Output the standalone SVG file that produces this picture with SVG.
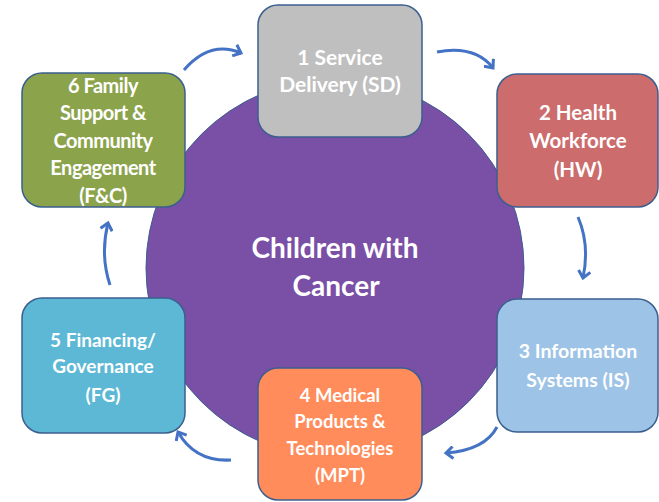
<svg xmlns="http://www.w3.org/2000/svg" width="659" height="502" viewBox="0 0 659 502">
<defs>
<style>
.box{stroke:#3B5F8F;stroke-width:1.5}
.t{font-family:Lato,"Open Sans","Liberation Sans",sans-serif;font-weight:bold;font-size:19px;fill:#FFFFFF;text-anchor:middle}
.c{font-size:28px}
.arr{fill:none;stroke:#4472C4;stroke-width:3;marker-end:url(#ah)}
</style>
<marker id="ah" markerWidth="14" markerHeight="14" refX="10" refY="7" orient="auto" markerUnits="userSpaceOnUse" viewBox="0 0 14 14">
<path d="M3,1 L10,7 L3,13" fill="none" stroke="#4472C4" stroke-width="3"/>
</marker>
</defs>
<rect width="659" height="502" fill="#FFFFFF"/>
<g id="center">
<circle cx="335" cy="268" r="189" fill="#7A4FA6" stroke="#3B5F8F" stroke-width="1"/>
<text class="t c" x="335" y="258">Children with</text>
<text class="t c" x="336" y="296">Cancer</text>
</g>
<g id="connectors">
<path class="arr" d="M184,70 Q210,40 241,53"/>
<path class="arr" d="M437,52 Q475,45 493,68"/>
<path class="arr" d="M578,217 Q590,245 583,278"/>
<path class="arr" d="M497,427 Q485,450 446,453"/>
<path class="arr" d="M231,460 Q195,462 178,432"/>
<path class="arr" d="M110,285 Q100,255 108,223"/>
</g>
<g id="node1">
<rect class="box" x="258" y="5" width="164" height="132" rx="20" fill="#BFBFBF"/>
<text class="t" x="340" y="65" style="font-size:21px">1 Service</text>
<text class="t" x="340" y="92" style="font-size:21px">Delivery (SD)</text>
</g>
<g id="node2">
<rect class="box" x="497" y="74" width="161" height="133" rx="20" fill="#CD6C6C"/>
<text class="t" x="578" y="120" style="font-size:20.5px">2 Health</text>
<text class="t" x="578" y="148" style="font-size:20.5px">Workforce</text>
<text class="t" x="578" y="177" style="font-size:20.5px">(HW)</text>
</g>
<g id="node3">
<rect class="box" x="497" y="299" width="161" height="133" rx="20" fill="#9DC3E6"/>
<text class="t" x="578" y="358" style="font-size:19.5px">3 Information</text>
<text class="t" x="578" y="387" style="font-size:19.5px">Systems (IS)</text>
</g>
<g id="node4">
<rect class="box" x="258" y="368" width="164" height="132" rx="20" fill="#FF8C5A"/>
<text class="t" x="340" y="402" style="font-size:18.5px">4 Medical</text>
<text class="t" x="340" y="428" style="font-size:18.5px">Products &amp;</text>
<text class="t" x="340" y="455" style="font-size:18.5px">Technologies</text>
<text class="t" x="340" y="482" style="font-size:18.5px">(MPT)</text>
</g>
<g id="node5">
<rect class="box" x="22" y="298" width="163" height="135" rx="20" fill="#5DB8D5"/>
<text class="t" x="103" y="347">5 Financing/</text>
<text class="t" x="103" y="373">Governance</text>
<text class="t" x="103" y="402">(FG)</text>
</g>
<g id="node6">
<rect class="box" x="22" y="73" width="163" height="134" rx="20" fill="#8BA34B"/>
<text class="t" x="103" y="93" style="font-size:20px" letter-spacing="-0.5">6 Family</text>
<text class="t" x="103" y="120" style="font-size:20px" letter-spacing="-0.5">Support &amp;</text>
<text class="t" x="103" y="148" style="font-size:20px" letter-spacing="-0.5">Community</text>
<text class="t" x="103" y="175" style="font-size:20px" letter-spacing="-0.5">Engagement</text>
<text class="t" x="103" y="203" style="font-size:20px" letter-spacing="-0.5">(F&amp;C)</text>
</g>
</svg>
